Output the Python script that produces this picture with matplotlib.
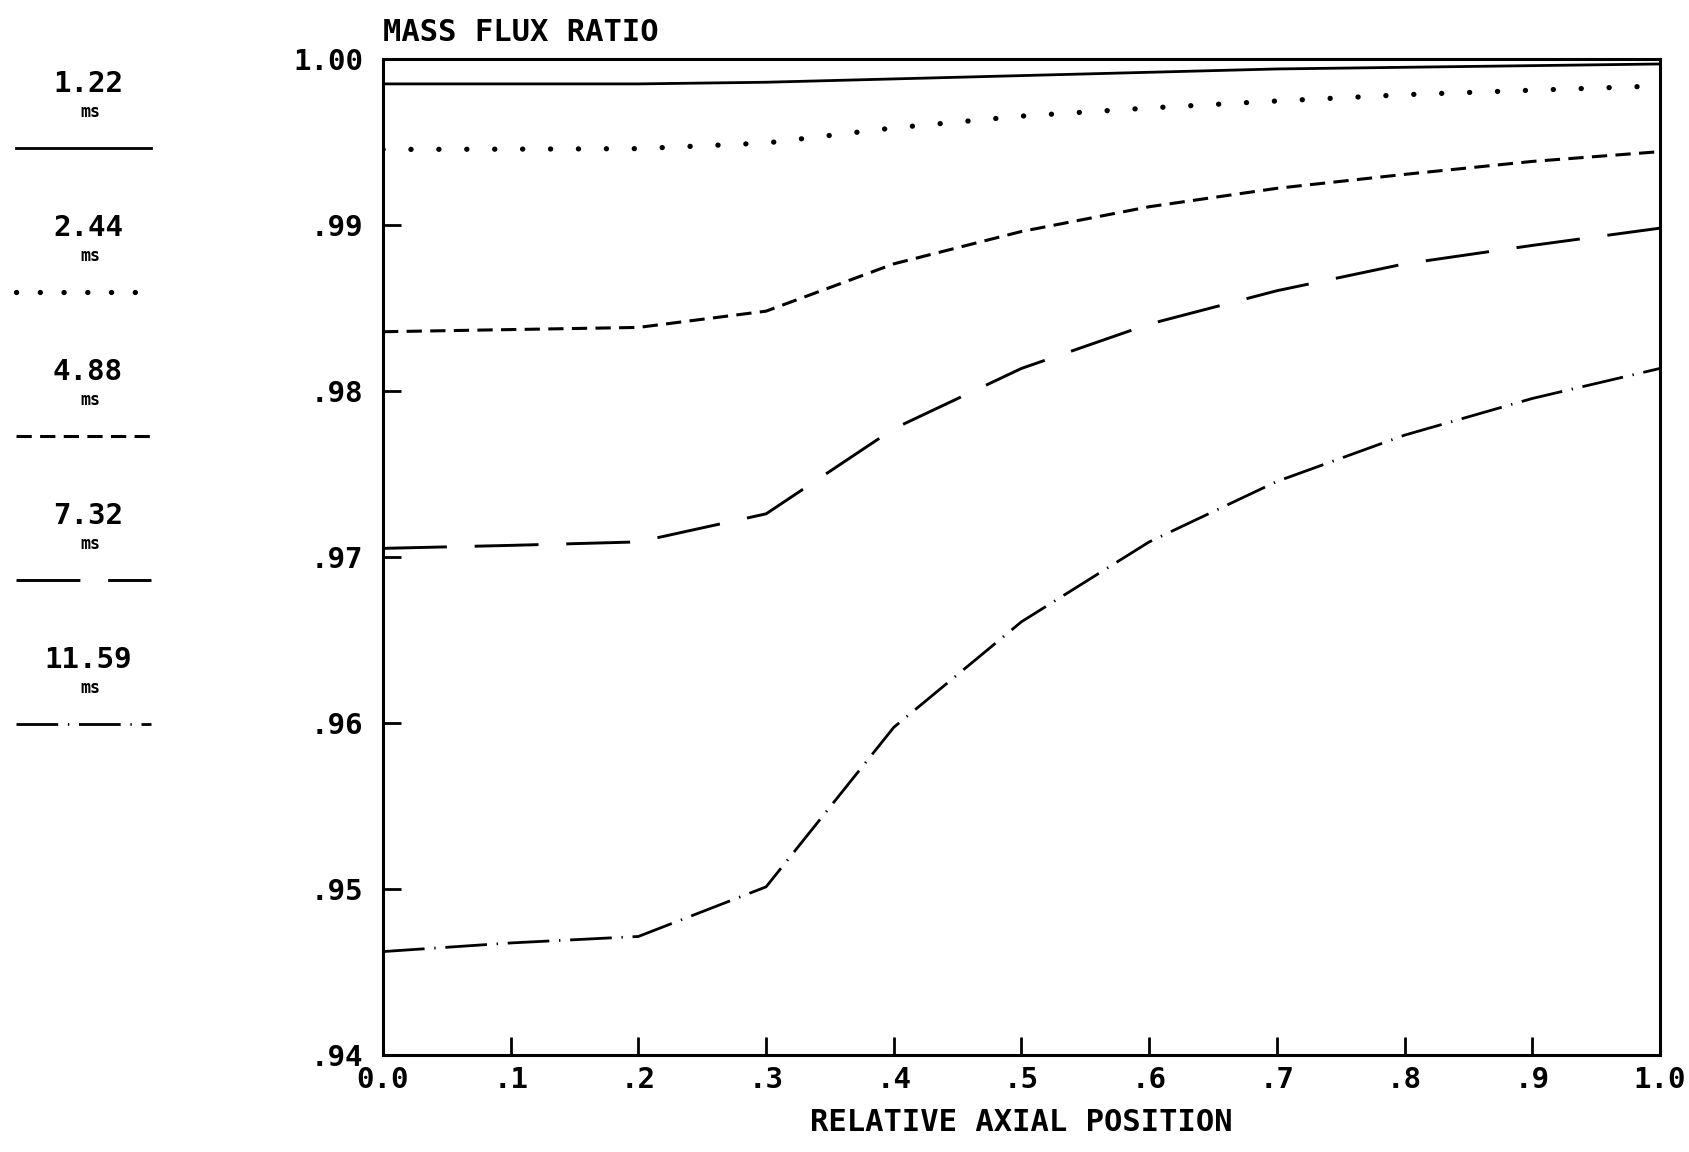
import matplotlib
matplotlib.use("Agg")
import matplotlib.pyplot as plt

plt.rcParams['font.family'] = ['DejaVu Sans Mono']
plt.rcParams['font.weight'] = 'bold'
plt.rcParams['axes.labelweight'] = 'bold'
plt.rcParams['lines.scale_dashes'] = False

x = [0.0, 0.1, 0.2, 0.3, 0.4, 0.5, 0.6, 0.7, 0.8, 0.9, 1.0]
labels = ["1.22", "2.44", "4.88", "7.32", "11.59"]
s_122 = [0.9985, 0.9985, 0.9985, 0.9986, 0.9988, 0.9990, 0.9992, 0.9994, 0.9995, 0.9996, 0.9997]
s_244 = [0.99455, 0.99457, 0.99460, 0.99494, 0.99585, 0.99656, 0.99705, 0.99747, 0.99785, 0.99812, 0.99838]
s_488 = [0.98357, 0.98370, 0.98383, 0.98481, 0.98766, 0.98961, 0.99110, 0.99221, 0.99305, 0.99383, 0.99442]
s_732 = [0.97052, 0.97070, 0.97091, 0.97260, 0.97773, 0.98136, 0.98403, 0.98604, 0.98766, 0.98877, 0.98981]
s_1159 = [0.94623, 0.94675, 0.94714, 0.95013, 0.95974, 0.96610, 0.97091, 0.97455, 0.97734, 0.97955, 0.98136]
series = [s_122, s_244, s_488, s_732, s_1159]

yticks = [0.94, 0.95, 0.96, 0.97, 0.98, 0.99, 1.00]
ytick_labels = [".94", ".95", ".96", ".97", ".98", ".99", "1.00"]
xticks = [0.0, 0.1, 0.2, 0.3, 0.4, 0.5, 0.6, 0.7, 0.8, 0.9, 1.0]
xtick_labels = ["0.0", ".1", ".2", ".3", ".4", ".5", ".6", ".7", ".8", ".9", "1.0"]

styles = [
    dict(linestyle='-', lw=2.0),
    dict(linestyle=(0, (0.1, 20)), lw=3.8, dash_capstyle='round'),
    dict(linestyle=(0, (11, 6)), lw=2.2),
    dict(linestyle=(0, (46, 20)), lw=2.1),
    dict(linestyle=(0, (30, 7, 1, 7)), lw=2.0),
]

fig = plt.figure(figsize=(16.9, 11.52), dpi=100)
ax = fig.add_axes([383 / 1690, 1 - 1055 / 1152, 1277 / 1690, 996 / 1152])
for ys, st in zip(series, styles):
    ax.plot(x, ys, color='black', **st)

ax.set_xlim(0, 1.0)
ax.set_ylim(0.94, 1.00)
ax.set_xticks(xticks)
ax.set_xticklabels(xtick_labels)
ax.set_yticks(yticks)
ax.set_yticklabels(ytick_labels)
ax.tick_params(direction='in', length=13, width=2.0, labelsize=21, pad=8)
ax.tick_params(axis='y', pad=14)
for sp in ax.spines.values():
    sp.set_linewidth(2.2)
ax.set_xlabel("RELATIVE AXIAL POSITION", fontsize=22, labelpad=10)
ax.text(0.0, 1.012, "MASS FLUX RATIO", transform=ax.transAxes, fontsize=22,
        ha='left', va='bottom')

# legend panel
lax = fig.add_axes([0, 0, 170 / 1690, 1])
lax.set_xlim(0, 170)
lax.set_ylim(1152, 0)
lax.axis('off')
legend_styles = [dict(st) for st in styles]
legend_styles[1]['linestyle'] = (0, (0.1, 17))
for i, (lab, st) in enumerate(zip(labels, legend_styles)):
    base = 148 + 144 * i
    lax.text(88, base - 64, lab, fontsize=21, ha='center', va='center')
    lax.text(90, base - 36, "ms", fontsize=12, ha='center', va='center')
    lax.plot([16, 151], [base, base], color='black', **st)

fig.savefig("out.png", dpi=100)
